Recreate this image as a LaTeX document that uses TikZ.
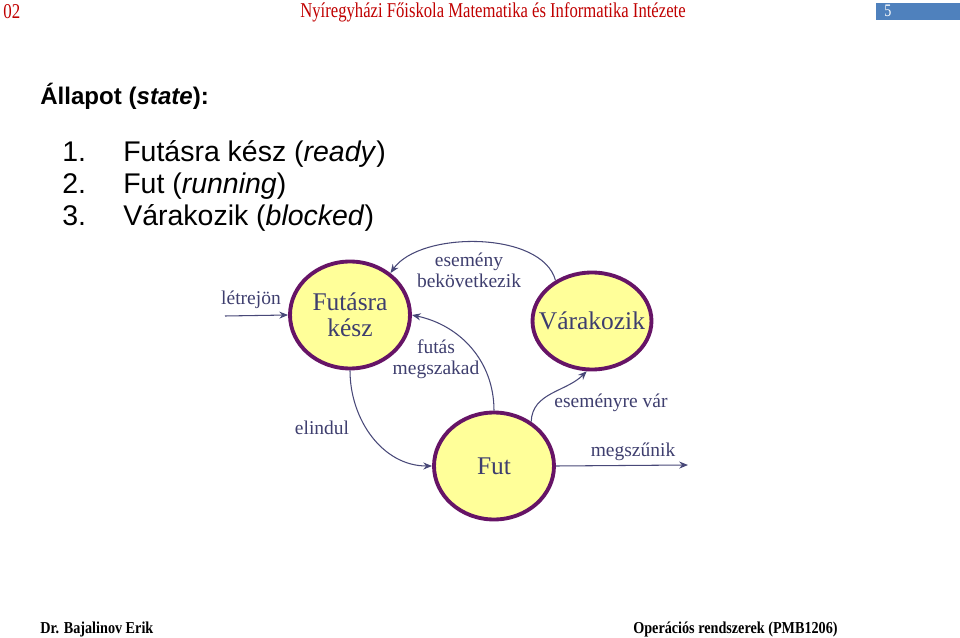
\documentclass[tikz,border=0pt]{standalone}
\usepackage{fontspec}
\setmainfont{Liberation Serif}
\newfontfamily\arialfont{Liberation Sans}
\usetikzlibrary{shapes.geometric, arrows.meta, positioning}
\definecolor{HeadRed}{RGB}{192, 0, 0}
\definecolor{BoxBlue}{RGB}{79, 129, 189}
\definecolor{StateFill}{RGB}{255, 255, 153}
\definecolor{StateRim}{RGB}{102, 20, 102}
\definecolor{EdgeSlate}{RGB}{72, 72, 120}
\definecolor{LabelSlate}{RGB}{62, 62, 110}

\begin{document}
\begin{tikzpicture}[x=0.02cm, y=-0.02cm,
    statenode/.style={ellipse, draw=StateRim, line width=2.2pt, fill=StateFill,
                      minimum width=2.4cm, minimum height=2.14cm, inner sep=0pt,
                      text=LabelSlate, font=\fontsize{14.5}{16}\selectfont, align=center},
    edge/.style={EdgeSlate, line width=0.6pt, -{Stealth[length=5pt, width=4pt]}},
    lbl/.style={text=LabelSlate, font=\fontsize{11.1}{12}\selectfont, align=center, inner sep=0pt}]
    \useasboundingbox (0,0) rectangle (960,638);
    % Header and footer
    \node[text=HeadRed, anchor=west, inner sep=0pt] (chap) at (3,12)
        {\scalebox{0.8}[1]{\fontsize{12}{12}\selectfont 02}};
    \node[text=HeadRed, inner sep=0pt] (head) at (493,12)
        {\scalebox{0.79}[1]{\fontsize{12}{12}\selectfont Nyíregyházi Főiskola Matematika és Informatika Intézete}};
    \fill[BoxBlue] (876,3) rectangle (960,20);
    \node[text=white, anchor=west, inner sep=0pt] (page) at (884,11)
        {\scalebox{0.8}[1]{\fontsize{10}{10}\selectfont 5}};
    \node[anchor=west, inner sep=0pt] (author) at (40,629)
        {\scalebox{0.85}[1]{\fontsize{9.5}{10}\selectfont\bfseries Dr. Bajalinov Erik}};
    \node[anchor=east, inner sep=0pt] (course) at (838,629)
        {\scalebox{0.85}[1]{\fontsize{9.5}{10}\selectfont\bfseries Operációs rendszerek (PMB1206)}};
    % Title and list
    \node[anchor=west, inner sep=0pt] (title) at (40,96)
        {\arialfont\fontsize{13.7}{15}\selectfont\bfseries Állapot (\textit{state}):};
    \foreach \i/\t [count=\k from 0] in {1/{Futásra kész (\textit{ready})},
                                        2/{Fut (\textit{running})},
                                        3/{Várakozik (\textit{blocked})}} {
        \node[anchor=base west, inner sep=0pt] (num\i) at (62,162+32*\k)
            {\arialfont\fontsize{16.2}{18}\selectfont \i.};
        \node[anchor=base west, inner sep=0pt] (item\i) at (123,162+32*\k)
            {\arialfont\fontsize{16.2}{18}\selectfont \t};
    }
    % States
    \node[statenode] (ready) at (350,315) {Futásra\\[-1pt]kész};
    \node[statenode, minimum width=2.38cm, minimum height=1.94cm, inner xsep=-8pt] (wait)
        at (592,321) {Várakozik};
    \node[statenode] (run) at (494,466) {Fut};
    % Transitions
    \coordinate (born) at (225,316);
    \coordinate (dead) at (688,465);
    \draw[edge] (born) -- (ready.west);
    \draw[edge] (wait.132) to[out=105, in=55, looseness=0.8] (ready.46);
    \draw[edge] (run.north) to[out=90, in=-12] (ready.east);
    \draw[edge] (ready.south) to[out=-90, in=180] (run.west);
    \draw[edge] (run.50) to[out=88, in=-135] (wait.-96);
    \draw[edge] (run.east) -- (dead);
    % Labels
    \node[lbl] (lborn) at (251,300) {létrejön};
    \node[lbl] (levent) at (469,270) {esemény\\bekövetkezik};
    \node[lbl] (lstop) at (436,359) {futás\\megszakad};
    \node[lbl] (lstart) at (322,428) {elindul};
    \node[lbl] (lwait) at (611,403) {eseményre vár};
    \node[lbl] (lend) at (633,452) {megszűnik};
\end{tikzpicture}
\end{document}
